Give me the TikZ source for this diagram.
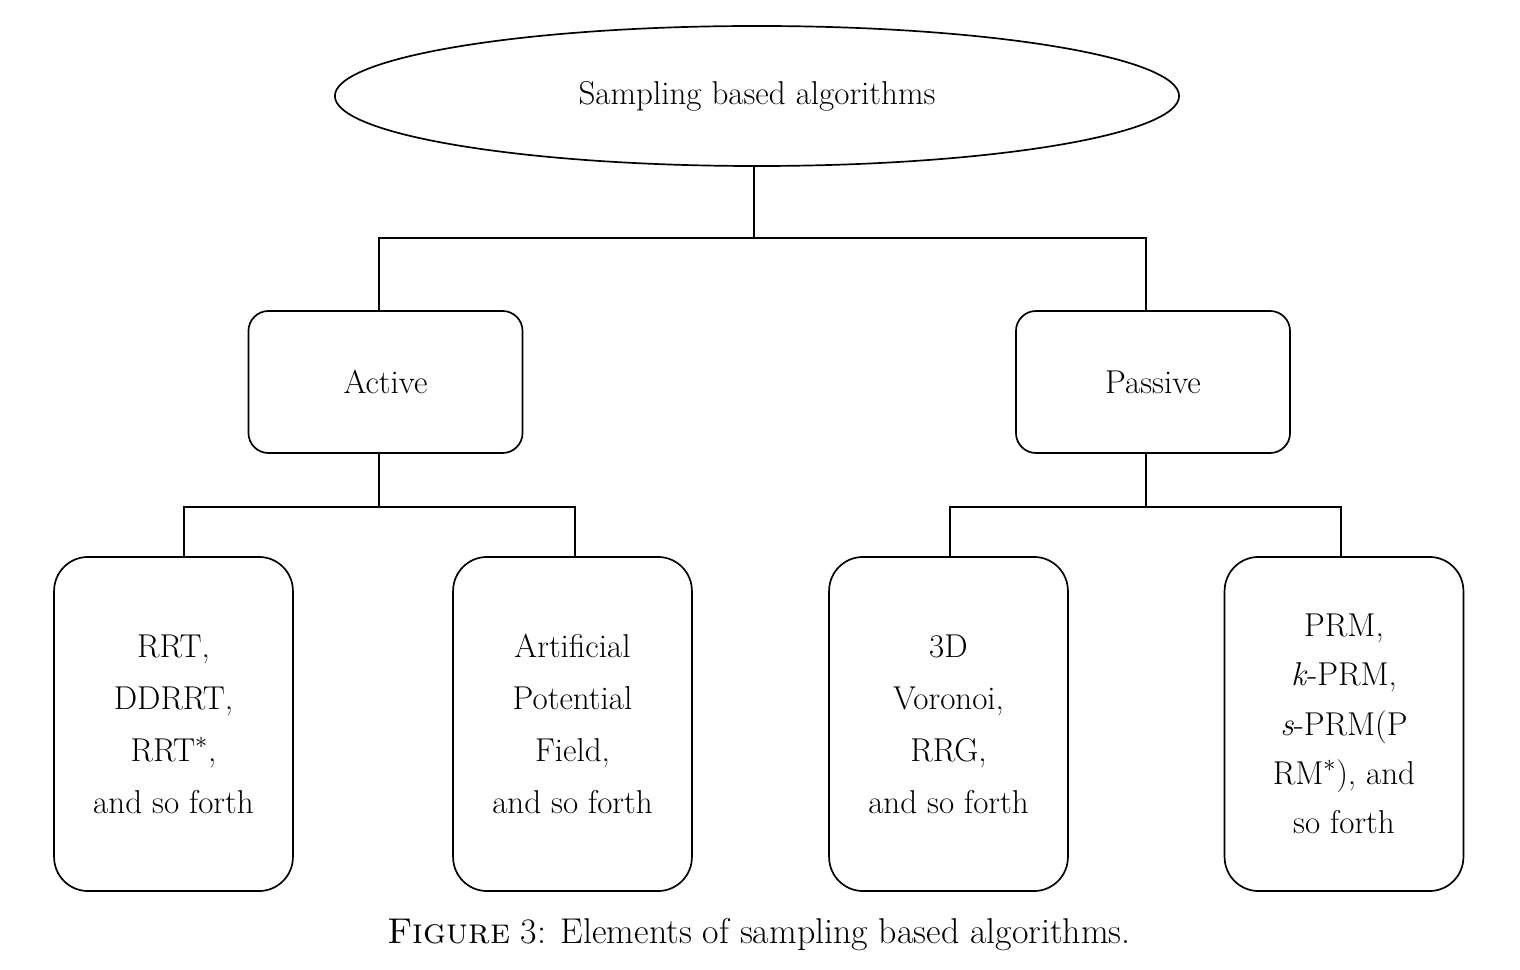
\documentclass[tikz,border=0pt]{standalone}
\usetikzlibrary{shapes.geometric,positioning}
\tikzstyle{root}=[ellipse, draw, minimum width=21.1cm, minimum height=3.5cm, inner sep=0pt]
\tikzstyle{group}=[rectangle, draw, rounded corners=0.5cm, minimum width=6.85cm, minimum height=3.55cm, inner sep=0pt]
\tikzstyle{leaf}=[rectangle, draw, rounded corners=0.85cm, minimum width=5.97cm, minimum height=8.35cm, align=center]
\begin{document}
\begin{tikzpicture}[x=0.025cm, y=-0.025cm, font=\fontsize{23.5}{37}\selectfont, line width=1.2pt]
\useasboundingbox (0,0) rectangle (1520,970);

% root
\node[root] (sba) at (757,96) {Sampling based algorithms};

% active / passive
\node[group] (active) at (385.5,382) {Active};
\node[group] (passive) at (1153,382) {Passive};

% leaves
\node[leaf] (rrt) at (173.5,724) {RRT,\\ DDRRT,\\ RRT$^*$,\\ and so forth};
\node[leaf] (apf) at (572.5,724) {Artificial\\ Potential\\ Field,\\ and so forth};
\node[leaf] (voronoi) at (948.5,724) {3D\\ Voronoi,\\ RRG,\\ and so forth};
\node[leaf, font=\fontsize{23.5}{35}\selectfont] (prm) at (1344,724) {PRM,\\ \textit{k}-PRM,\\ \textit{s}-PRM(P\\ RM$^*$), and\\ so forth};

% connectors
\coordinate (top) at (754,238);
\draw (sba.south -| top) -- (top);
\draw (active.north -| 379,0) |- (top) -| (passive.north -| 1146,0);

\coordinate (lbus) at (379,507);
\draw (active.south -| lbus) -- (lbus);
\draw (rrt.north -| 184,0) |- (lbus) -| (apf.north -| 575,0);

\coordinate (rbus) at (1146,507);
\draw (passive.south -| rbus) -- (rbus);
\draw (voronoi.north -| 950,0) |- (rbus) -| (prm.north -| 1341,0);

% caption
\node[font=\fontsize{25.5}{30}\selectfont] (caption) at (759,935) {\textsc{Figure} 3: Elements of sampling based algorithms.};

\end{tikzpicture}
\end{document}
